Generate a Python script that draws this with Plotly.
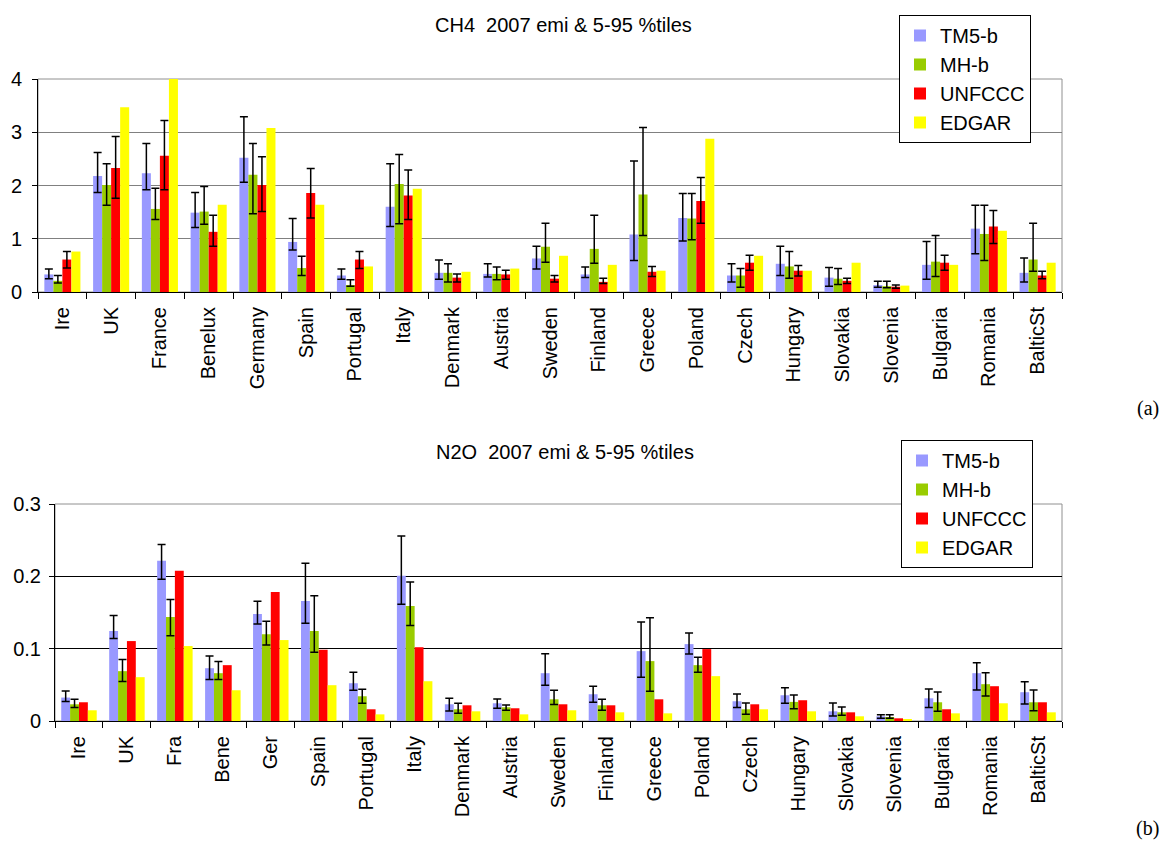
import plotly.graph_objects as go

# ---------------- data ----------------
cats_a = ["Ire", "UK", "France", "Benelux", "Germany", "Spain", "Portugal", "Italy",
          "Denmark", "Austria", "Sweden", "Finland", "Greece", "Poland", "Czech",
          "Hungary", "Slovakia", "Slovenia", "Bulgaria", "Romania", "BalticSt"]
cats_b = ["Ire", "UK", "Fra", "Bene", "Ger", "Spain", "Portugal", "Italy",
          "Denmark", "Austria", "Sweden", "Finland", "Greece", "Poland", "Czech",
          "Hungary", "Slovakia", "Slovenia", "Bulgaria", "Romania", "BalticSt"]

# CH4 (panel a)
ch4_tm5 = [0.33, 2.18, 2.23, 1.49, 2.52, 0.94, 0.31, 1.60, 0.36, 0.34, 0.63, 0.33, 1.08, 1.39, 0.31,
           0.53, 0.27, 0.13, 0.51, 1.19, 0.36]
ch4_tm5_hi = [0.43, 2.62, 2.79, 1.87, 3.29, 1.38, 0.43, 2.41, 0.60, 0.53, 0.86, 0.47, 2.46, 1.85, 0.53,
              0.86, 0.46, 0.20, 0.95, 1.63, 0.64]
ch4_tm5_lo = [0.25, 1.87, 1.92, 1.21, 2.06, 0.79, 0.24, 1.23, 0.24, 0.28, 0.43, 0.27, 0.59, 0.96, 0.19,
              0.31, 0.11, 0.09, 0.24, 0.72, 0.19]
ch4_mh = [0.21, 2.01, 1.56, 1.51, 2.20, 0.45, 0.13, 2.03, 0.36, 0.34, 0.85, 0.81, 1.83, 1.38, 0.31,
          0.48, 0.25, 0.11, 0.57, 1.09, 0.61]
ch4_mh_hi = [0.31, 2.41, 1.95, 1.98, 2.79, 0.67, 0.23, 2.58, 0.53, 0.47, 1.29, 1.44, 3.09, 1.85, 0.44,
             0.76, 0.44, 0.20, 1.06, 1.63, 1.29]
ch4_mh_lo = [0.17, 1.63, 1.36, 1.27, 1.47, 0.31, 0.11, 1.28, 0.19, 0.23, 0.56, 0.54, 1.06, 0.98, 0.09,
             0.26, 0.14, 0.08, 0.29, 0.59, 0.39]
ch4_unf = [0.61, 2.33, 2.56, 1.13, 2.01, 1.86, 0.61, 1.81, 0.27, 0.33, 0.25, 0.19, 0.38, 1.71, 0.55,
           0.40, 0.21, 0.10, 0.55, 1.23, 0.31]
ch4_unf_hi = [0.76, 2.92, 3.22, 1.44, 2.54, 2.32, 0.76, 2.29, 0.34, 0.41, 0.31, 0.26, 0.48, 2.15, 0.69,
              0.50, 0.26, 0.13, 0.69, 1.53, 0.39]
ch4_unf_lo = [0.45, 1.76, 1.92, 0.86, 1.51, 1.39, 0.44, 1.36, 0.19, 0.24, 0.19, 0.16, 0.29, 1.29, 0.41,
              0.30, 0.16, 0.07, 0.41, 0.91, 0.25]
ch4_edgar = [0.76, 3.47, 4.00, 1.64, 3.08, 1.64, 0.48, 1.94, 0.38, 0.44, 0.68, 0.51, 0.40, 2.88, 0.68,
             0.40, 0.55, 0.12, 0.51, 1.15, 0.55]

# N2O (panel b)
n2o_tm5 = [0.0324, 0.1244, 0.2215, 0.0730, 0.1480, 0.1660, 0.0522, 0.2007, 0.0231, 0.0245, 0.0661,
           0.0370, 0.0966, 0.1063, 0.0273, 0.0356, 0.0134, 0.0065, 0.0314, 0.0661, 0.0398]
n2o_tm5_hi = [0.0416, 0.1460, 0.2440, 0.0897, 0.1655, 0.2180, 0.0675, 0.2557, 0.0314, 0.0305, 0.0930,
              0.0480, 0.1368, 0.1216, 0.0374, 0.0458, 0.0250, 0.0088, 0.0444, 0.0804, 0.0541]
n2o_tm5_lo = [0.0268, 0.1140, 0.1960, 0.0573, 0.1340, 0.1350, 0.0425, 0.1613, 0.0139, 0.0176, 0.0495,
              0.0259, 0.0606, 0.0925, 0.0185, 0.0245, 0.0069, 0.0037, 0.0185, 0.0430, 0.0236]
n2o_mh = [0.0231, 0.0689, 0.1438, 0.0661, 0.1200, 0.1244, 0.0342, 0.1590, 0.0162, 0.0190, 0.0300,
          0.0217, 0.0828, 0.0772, 0.0162, 0.0264, 0.0120, 0.0055, 0.0259, 0.0509, 0.0259]
n2o_mh_hi = [0.0300, 0.0850, 0.1680, 0.0823, 0.1378, 0.1730, 0.0439, 0.1920, 0.0245, 0.0222, 0.0425,
             0.0300, 0.1429, 0.0883, 0.0250, 0.0360, 0.0194, 0.0088, 0.0402, 0.0666, 0.0430]
n2o_mh_lo = [0.0185, 0.0546, 0.1180, 0.0573, 0.1050, 0.0952, 0.0245, 0.1320, 0.0106, 0.0148, 0.0227,
             0.0148, 0.0411, 0.0675, 0.0092, 0.0171, 0.0079, 0.0037, 0.0134, 0.0347, 0.0143]
n2o_unf = [0.0259, 0.1105, 0.2076, 0.0772, 0.1785, 0.0985, 0.0162, 0.1020, 0.0217, 0.0176, 0.0231,
           0.0217, 0.0300, 0.0994, 0.0231, 0.0287, 0.0120, 0.0037, 0.0162, 0.0481, 0.0259]
n2o_edgar = [0.0148, 0.0606, 0.1036, 0.0425, 0.1119, 0.0495, 0.0092, 0.0550, 0.0134, 0.0092, 0.0148,
             0.0120, 0.0106, 0.0620, 0.0162, 0.0134, 0.0065, 0.0018, 0.0106, 0.0245, 0.0120]

series_names = ["TM5-b", "MH-b", "UNFCCC", "EDGAR"]
colors = ["#9999FF", "#99CC00", "#FF0000", "#FFFF00"]

FONT = "Liberation Sans, Arial, sans-serif"
SERIF = "Liberation Serif, Times New Roman, serif"


def err(val, hi, lo):
    return dict(type="data", symmetric=False,
                array=[h - v for v, h in zip(val, hi)],
                arrayminus=[v - l for v, l in zip(val, lo)],
                color="black", thickness=1.5, width=4)


fig = go.Figure()

panel_a = [(ch4_tm5, ch4_tm5_hi, ch4_tm5_lo), (ch4_mh, ch4_mh_hi, ch4_mh_lo),
           (ch4_unf, ch4_unf_hi, ch4_unf_lo), (ch4_edgar, None, None)]
for i, (v, hi, lo) in enumerate(panel_a):
    fig.add_trace(go.Bar(x=cats_a, y=v, name=series_names[i], marker_color=colors[i],
                         marker_line_width=0, xaxis="x", yaxis="y", legend="legend",
                         legendgroup="a" + str(i),
                         error_y=err(v, hi, lo) if hi is not None else None))

panel_b = [(n2o_tm5, n2o_tm5_hi, n2o_tm5_lo), (n2o_mh, n2o_mh_hi, n2o_mh_lo),
           (n2o_unf, None, None), (n2o_edgar, None, None)]
for i, (v, hi, lo) in enumerate(panel_b):
    fig.add_trace(go.Bar(x=cats_b, y=v, name=series_names[i], marker_color=colors[i],
                         marker_line_width=0, xaxis="x2", yaxis="y2", legend="legend2",
                         legendgroup="b" + str(i),
                         error_y=err(v, hi, lo) if hi is not None else None))

W, H = 1163, 842


def px_x(p):
    return p / W


def px_y(p):
    return 1 - p / H


axis_common = dict(showline=True, linecolor="black", linewidth=1, mirror=False,
                   automargin=False,
                   tickfont=dict(family=FONT, size=20, color="black"))

legend_common = dict(bgcolor="white", bordercolor="black", borderwidth=1,
                     font=dict(family=FONT, size=20, color="black"),
                     tracegroupgap=0, xanchor="left", yanchor="top",
                     itemclick=False, itemdoubleclick=False)

fig.update_layout(
    width=W, height=H, autosize=False,
    margin=dict(l=0, r=0, t=0, b=0, autoexpand=False),
    paper_bgcolor="white", plot_bgcolor="white",
    barmode="group", bargap=0.26, bargroupgap=0,
    showlegend=True,
    xaxis=dict(domain=[px_x(38), px_x(1062)], anchor="y", ticks="outside", ticklen=6,
               tickson="boundaries", tickangle=-90, tickcolor="black",
               ticklabelstandoff=6, **axis_common),
    yaxis=dict(domain=[px_y(292), px_y(79)], anchor="x", range=[0, 4], dtick=1,
               ticks="outside", ticklen=5, tickcolor="black", ticklabelstandoff=6,
               showgrid=True, gridcolor="#808080", gridwidth=1, zeroline=False,
               **axis_common),
    xaxis2=dict(domain=[px_x(55), px_x(1062)], anchor="y2", ticks="outside", ticklen=6,
                tickson="boundaries", tickangle=-90, tickcolor="black",
                ticklabelstandoff=6, **axis_common),
    yaxis2=dict(domain=[px_y(721), px_y(504)], anchor="x2", range=[0, 0.3], dtick=0.1,
                ticks="outside", ticklen=5, tickcolor="black", ticklabelstandoff=4,
                showgrid=True, gridcolor="#000000", gridwidth=1, zeroline=False,
                **axis_common),
    legend=dict(x=px_x(899), y=px_y(15), **legend_common),
    legend2=dict(x=px_x(901), y=px_y(440), **legend_common),
    shapes=[
        dict(type="rect", xref="x domain", yref="y domain", x0=0, x1=1, y0=0, y1=1,
             line=dict(color="#909090", width=1), layer="below"),
        dict(type="rect", xref="x2 domain", yref="y2 domain", x0=0, x1=1, y0=0, y1=1,
             line=dict(color="#909090", width=1), layer="below"),
    ],
    annotations=[
        dict(text="CH4\u00a0\u00a02007 emi &amp; 5-95 %tiles", x=px_x(563), y=px_y(25),
             xref="paper", yref="paper", showarrow=False, xanchor="center", yanchor="middle",
             font=dict(family=FONT, size=20, color="black")),
        dict(text="N2O\u00a0\u00a02007 emi &amp; 5-95 %tiles", x=px_x(565), y=px_y(452),
             xref="paper", yref="paper", showarrow=False, xanchor="center", yanchor="middle",
             font=dict(family=FONT, size=20, color="black")),
        dict(text="(a)", x=px_x(1161), y=px_y(408), xref="paper", yref="paper",
             showarrow=False, xanchor="right", yanchor="middle",
             font=dict(family=SERIF, size=20, color="black")),
        dict(text="(b)", x=px_x(1161), y=px_y(828), xref="paper", yref="paper",
             showarrow=False, xanchor="right", yanchor="middle",
             font=dict(family=SERIF, size=20, color="black")),
    ],
)

fig.write_html("out.html", config={"displayModeBar": False},
               post_script="document.body.style.margin='0';")
